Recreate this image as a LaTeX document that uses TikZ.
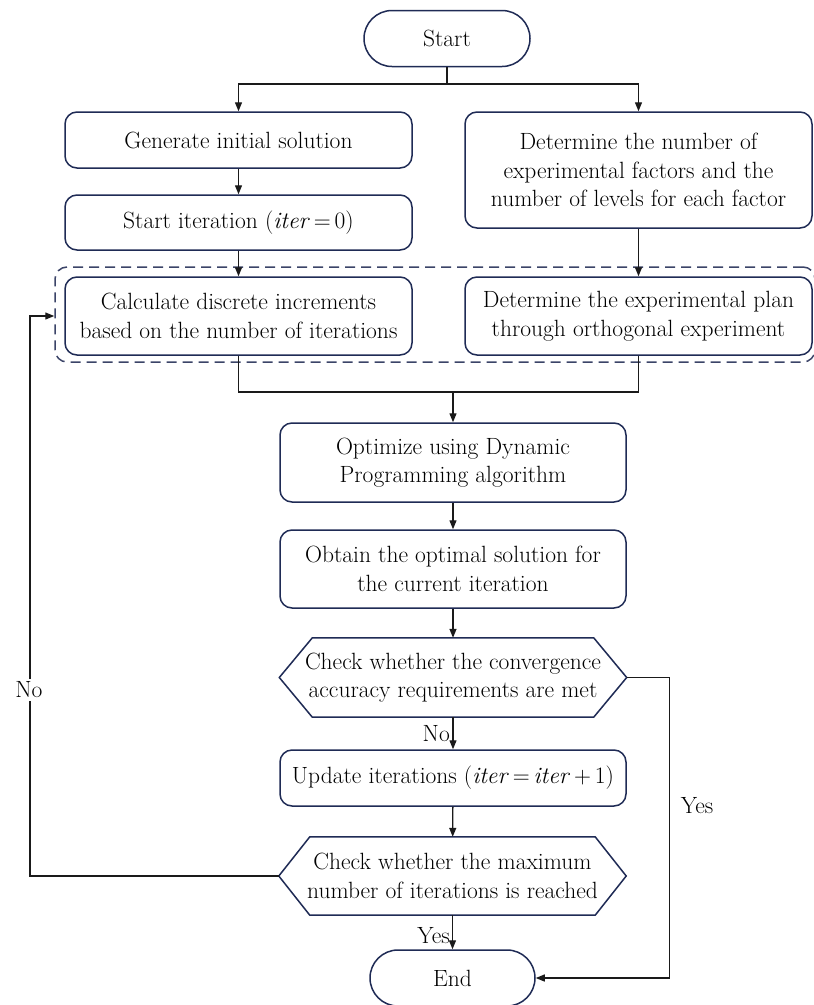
\documentclass[tikz,border=0pt]{standalone}
\usetikzlibrary{arrows.meta}
\definecolor{navy}{HTML}{1F2B55}
\definecolor{dashc}{HTML}{3B4468}
\definecolor{linec}{HTML}{1A1A1A}
\begin{document}
\begin{tikzpicture}[x=1pt,y=-1pt,
  every node/.style={font=\fontsize{23.5}{28.5}\selectfont, text=black},
  procbox/.style={draw=navy, line width=1.5pt, rounded corners=12pt, align=center,
    minimum width=347pt, inner sep=0pt, fill=white},
  termbox/.style={draw=navy, line width=1.5pt, rounded corners=28pt, align=center,
    minimum width=166pt, minimum height=56pt, inner sep=0pt},
  hexnode/.style={align=center, minimum width=347pt, inner sep=0pt},
  hexline/.style={draw=navy, line width=1.5pt, line join=miter},
  dashbox/.style={draw=dashc, line width=1.5pt, dash pattern=on 10pt off 6pt, rounded corners=12pt, inner sep=0pt},
  conn/.style={draw=linec, line width=1.3pt},
  arr/.style={conn, -{Triangle[length=9pt,width=7pt]}},
  lab/.style={inner sep=0pt}
]
\useasboundingbox (0,0) rectangle (814,1005);
\fill[white] (0,0) rectangle (814,1005);

% dashed group
\node[dashbox, minimum width=760pt, minimum height=95pt] (grp) at (435,314.5) {};

% nodes
\node[termbox] (start) at (447,38.5) {Start};
\node[procbox, minimum height=56pt] (gen) at (238.5,140) {Generate initial solution};
\node[procbox, minimum height=55pt] (iter) at (238.5,222.5) {Start iteration (\textit{iter}\,=\,0)};
\node[procbox, minimum height=116pt] (det) at (638.5,170) {Determine the number of\\experimental factors and the\\number of levels for each factor};
\node[procbox, minimum height=78pt] (calc) at (238.5,316) {Calculate discrete increments\\based on the number of iterations};
\node[procbox, minimum height=78pt] (plan) at (638.5,316) {Determine the experimental plan\\through orthogonal experiment};
\node[procbox, minimum width=346pt, minimum height=79pt] (opt) at (453,462.5) {Optimize using Dynamic\\Programming algorithm};
\node[procbox, minimum width=346pt, minimum height=78pt] (obt) at (453,569) {Obtain the optimal solution for\\the current iteration};
\node[hexnode, minimum height=79pt] (h1) at (453,677.5) {Check whether the convergence\\accuracy requirements are met};
\node[procbox, minimum width=346pt, minimum height=56pt] (upd) at (453,778) {Update iterations (\textit{iter}\,=\,\textit{iter}\,+\,1)};
\node[hexnode, minimum height=78pt] (h2) at (452.5,876) {Check whether the maximum\\number of iterations is reached};
\node[termbox, minimum width=165pt] (end) at (452.5,978) {End};

% hexagon outlines
\draw[hexline] (h1.west) -- ([xshift=33pt]h1.north west) -- ([xshift=-33pt]h1.north east) -- (h1.east)
  -- ([xshift=-33pt]h1.south east) -- ([xshift=33pt]h1.south west) -- cycle;
\draw[hexline] (h2.west) -- ([xshift=31pt]h2.north west) -- ([xshift=-31pt]h2.north east) -- (h2.east)
  -- ([xshift=-31pt]h2.south east) -- ([xshift=31pt]h2.south west) -- cycle;

% coordinates
\coordinate (split) at (447,84);
\coordinate (join) at (453,392);
\coordinate (lx) at (30,876);

% connectors
\draw[conn] (start.south) -- (split);
\draw[arr] (split) -| (gen.north);
\draw[arr] (split) -| (det.north);
\draw[arr] (gen) -- (iter);
\draw[arr] (iter) -- (calc);
\draw[arr] (det) -- (plan);
\draw[conn] (calc.south) |- (join);
\draw[conn] (plan.south) |- (join);
\draw[arr] (join) -- (opt.north);
\draw[arr] (opt) -- (obt);
\draw[arr] (obt) -- (h1);
\draw[arr] (h1) -- (upd);
\draw[arr] (upd) -- (h2);
\draw[arr] (h2) -- (end);
\draw[arr] (h1.east) -- ++(43,0) |- (end.east);
\draw[arr] (h2.west) -- (lx) |- (grp.west |- calc.west);

% labels
\node[lab, anchor=east] (lno1) at (450,734) {No};
\node[lab, anchor=east] (lyes1) at (450,936) {Yes};
\node[lab] (lyes2) at (697,806) {Yes};
\node[lab, fill=white, inner ysep=3pt] (lno2) at (29,690) {No};
\end{tikzpicture}
\end{document}
